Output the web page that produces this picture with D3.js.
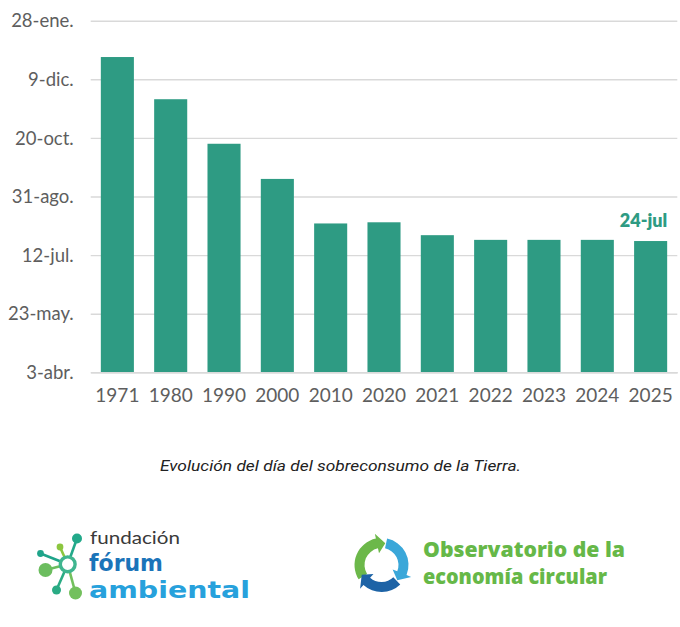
<!DOCTYPE html>
<html>
<head>
<meta charset="utf-8">
<script src="https://cdn.jsdelivr.net/npm/d3@7"></script>
<style>
  html, body { margin: 0; padding: 0; background: #ffffff; }
  svg { display: block; }
</style>
</head>
<body>
<svg id="chart" width="680" height="627"></svg>
<script>
// ---- data ----
const years = ["1971", "1980", "1990", "2000", "2010", "2020", "2021", "2022", "2023", "2024", "2025"];
// Earth overshoot day (month-day)
const overshootDays = ["12-28", "11-22", "10-15", "09-15", "08-08", "08-09", "07-29", "07-25", "07-25", "07-25", "07-24"];
const tickDays = ["04-03", "05-23", "07-12", "08-31", "10-20", "12-09", "01-28"];
const tickLabels = ["3-abr.", "23-may.", "12-jul.", "31-ago.", "20-oct.", "9-dic.", "28-ene."];
const highlightLabel = "24-jul";
const caption = "Evolución del día del sobreconsumo de la Tierra.";

// month-day -> date on a non-leap axis running from April to the next January
function toDate(md) {
  const [m, d] = md.split("-").map(Number);
  return new Date(m < 4 ? 2024 : 2023, m - 1, d);
}

const svg = d3.select("#chart");
const plotL = 90.7, plotR = 677.3, plotT = 20.7, plotB = 372.3;

const x = d3.scaleBand().domain(years).range([plotL, plotR]).paddingInner(0.38).paddingOuter(0.19);
const y = d3.scaleTime().domain([toDate(tickDays[0]), toDate(tickDays[tickDays.length - 1])]).range([plotB, plotT]);

const labelFont = "Lato, 'DejaVu Sans', sans-serif";

// gridlines
const tickDates = tickDays.map(toDate);
const yAxis = d3.axisLeft(y).tickValues(tickDates)
  .tickSize(-(plotR - plotL)).tickPadding(17)
  .tickFormat((d, i) => tickLabels[i]);
const gy = svg.append("g").attr("transform", `translate(${plotL},0)`).call(yAxis);
gy.select(".domain").remove();
gy.selectAll(".tick line").attr("stroke", "#d9d9d9").attr("stroke-width", 1.4);
gy.selectAll(".tick text").attr("fill", "#5e5e5e").style("font-family", labelFont)
  .style("font-size", "18.5px").attr("dy", "0.34em");

// bars
svg.append("g").selectAll("rect").data(years).join("rect")
  .attr("x", d => x(d))
  .attr("width", x.bandwidth())
  .attr("y", (d, i) => y(toDate(overshootDays[i])))
  .attr("height", (d, i) => plotB - y(toDate(overshootDays[i])))
  .attr("fill", "#2e9b83");

// x axis
const xAxis = d3.axisBottom(x).tickSize(0).tickPadding(16);
const gx = svg.append("g").attr("transform", `translate(0,${plotB})`).call(xAxis);
gx.select(".domain").attr("stroke", "#d9d9d9").attr("stroke-width", 1.4);
gx.selectAll(".tick text").attr("fill", "#5e5e5e").style("font-family", labelFont)
  .style("font-size", "19px");

// highlight label over last bar (right-aligned to the bar)
const lastIdx = years.length - 1;
svg.append("text")
  .attr("x", x(years[lastIdx]) + x.bandwidth())
  .attr("y", y(toDate(overshootDays[lastIdx])) - 14)
  .attr("text-anchor", "end")
  .attr("fill", "#2e9b83")
  .style("font-family", labelFont).style("font-weight", "800").style("font-size", "18px")
  .text(highlightLabel);

// caption
svg.append("text")
  .attr("x", 340.5).attr("y", 471)
  .attr("text-anchor", "middle")
  .attr("fill", "#222")
  .style("font-family", "Roboto, 'Open Sans', sans-serif").style("font-style", "italic").style("font-size", "14.5px")
  .attr("textLength", 361).attr("lengthAdjust", "spacingAndGlyphs")
  .text(caption);

// ---- logo 1: fundación fórum ambiental ----
const l1 = svg.append("g");
const hub = [67.7, 564.3];
const nodes = [
  { p: [77, 538.5], r: 5, c: "#22a98a" },
  { p: [60, 547], r: 3.4, c: "#8cc63f" },
  { p: [40.5, 553.5], r: 3.4, c: "#1fa48a" },
  { p: [45.5, 570], r: 7, c: "#6cbd5f" },
  { p: [56.5, 590], r: 4.5, c: "#2aab84" },
  { p: [75.5, 593], r: 6.5, c: "#73c05d" }
];
l1.selectAll("line").data(nodes).join("line")
  .attr("x1", hub[0]).attr("y1", hub[1])
  .attr("x2", d => d.p[0]).attr("y2", d => d.p[1])
  .attr("stroke", d => d.c).attr("stroke-width", 2.6);
l1.selectAll("circle.n").data(nodes).join("circle").attr("class", "n")
  .attr("cx", d => d.p[0]).attr("cy", d => d.p[1]).attr("r", d => d.r).attr("fill", d => d.c);
l1.append("circle").attr("cx", hub[0]).attr("cy", hub[1]).attr("r", 7.4)
  .attr("fill", "#fff").attr("stroke", "#3fb58f").attr("stroke-width", 3.4);
l1.append("text").attr("x", 90).attr("y", 544)
  .attr("fill", "#3a3a3a").style("font-family", "Lato, sans-serif").style("font-size", "17.5px")
  .attr("textLength", 90).attr("lengthAdjust", "spacingAndGlyphs").text("fundación");
l1.append("text").attr("x", 89).attr("y", 571)
  .attr("fill", "#1b74b9").style("font-family", "'DejaVu Sans', sans-serif").style("font-weight", "bold").style("font-size", "22.6px")
  .attr("textLength", 74).attr("lengthAdjust", "spacingAndGlyphs").text("fórum");
l1.append("text").attr("x", 89).attr("y", 598)
  .attr("fill", "#27a1dc").style("font-family", "'DejaVu Sans', sans-serif").style("font-weight", "bold").style("font-size", "22.6px")
  .attr("textLength", 161).attr("lengthAdjust", "spacingAndGlyphs").text("ambiental");

// ---- logo 2: observatorio de la economía circular ----
const l2 = svg.append("g").attr("transform", "translate(381.5,565)");
const rIn = 17, rOut = 27;
function arrowArc(a0, a1) {
  const rad = a => (a - 90) * Math.PI / 180;
  const pt = (r, a) => [r * Math.cos(rad(a)), r * Math.sin(rad(a))];
  const mid = (rIn + rOut) / 2;
  const p = d3.path();
  let s = pt(rOut, a0); p.moveTo(s[0], s[1]);
  p.arc(0, 0, rOut, rad(a0), rad(a1), false);
  let h1 = pt(rOut + 5, a1); p.lineTo(h1[0], h1[1]);
  let tip = pt(mid, a1 + 22); p.lineTo(tip[0], tip[1]);
  let h2 = pt(rIn - 5, a1); p.lineTo(h2[0], h2[1]);
  let e = pt(rIn, a1); p.lineTo(e[0], e[1]);
  p.arc(0, 0, rIn, rad(a1), rad(a0), true);
  p.closePath();
  return p.toString();
}
l2.append("path").attr("d", arrowArc(238, 348)).attr("fill", "#6cb84a");
l2.append("path").attr("d", arrowArc(12, 112)).attr("fill", "#3aa7d9");
l2.append("path").attr("d", arrowArc(136, 222)).attr("fill", "#1d63a6");
svg.append("text").attr("x", 423).attr("y", 557)
  .attr("fill", "#66b848").style("font-family", "'Open Sans', sans-serif").style("font-weight", "800").style("font-size", "20.5px")
  .attr("textLength", 202).attr("lengthAdjust", "spacingAndGlyphs").text("Observatorio de la");
svg.append("text").attr("x", 423).attr("y", 584)
  .attr("fill", "#66b848").style("font-family", "'Open Sans', sans-serif").style("font-weight", "800").style("font-size", "20.5px")
  .attr("textLength", 184).attr("lengthAdjust", "spacingAndGlyphs").text("economía circular");
</script>
</body>
</html>
